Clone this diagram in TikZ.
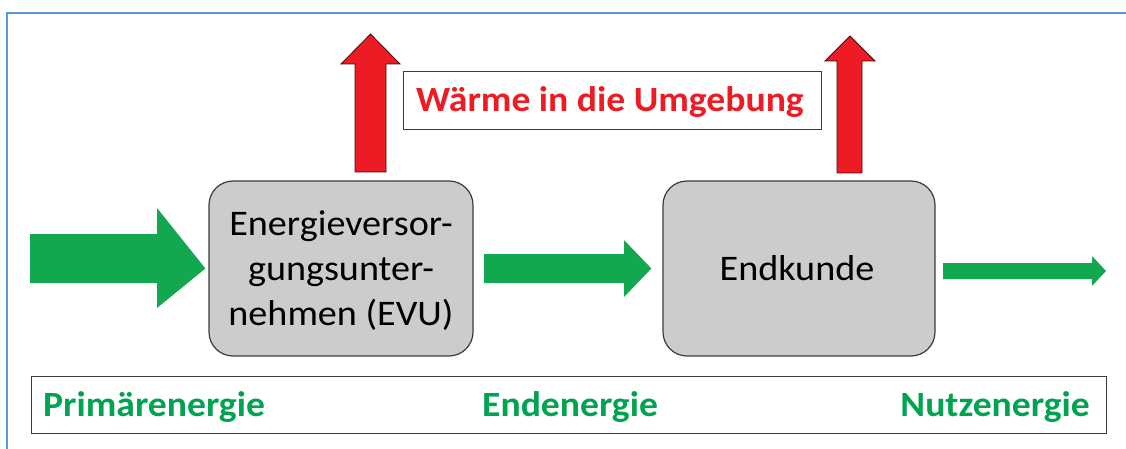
\documentclass[tikz,border=0pt]{standalone}
\usepackage{fontspec}
\setmainfont{Carlito}[FakeStretch=1.06]
\definecolor{frameblue}{RGB}{91,155,213}
\definecolor{heatred}{RGB}{237,28,36}
\definecolor{flowgreen}{RGB}{19,168,79}
\definecolor{textgreen}{RGB}{0,163,80}
\definecolor{boxgray}{RGB}{204,204,204}
\definecolor{edgegray}{RGB}{60,60,60}
\tikzset{
  procbox/.style={draw=edgegray, line width=1.2pt, fill=boxgray, rounded corners=24pt, inner sep=0pt},
  redarrow/.style={fill=heatred, draw=black!70!heatred, line width=0.8pt},
  greenarrow/.style={fill=flowgreen, draw=none},
  labelbox/.style={draw=edgegray, line width=1pt, fill=white, inner sep=0pt},
  bigtext/.style={font=\fontsize{36}{45}\selectfont, text=black},
  redlabel/.style={font=\fontsize{35.5}{42}\selectfont\bfseries, text=heatred},
  greenlabel/.style={font=\fontsize{35.5}{42}\selectfont\bfseries, text=textgreen, inner sep=0pt},
}
\begin{document}
\begin{tikzpicture}[x=1pt,y=-1pt]
\useasboundingbox (0,0) rectangle (1126,449);
% blue frame (left and top visible)
\draw[frameblue, line width=1.5pt] (7,449) -- (7,13) -- (1126,13);

% process boxes
\node[procbox, minimum width=264pt, minimum height=175pt] (evu) at (341,268.5) {};
\node[procbox, minimum width=272pt, minimum height=175pt] (kunde) at (799,268.5) {};
\node[bigtext, align=center] (evutext) at (341,271) {Energieversor-\\gungsunter-\\nehmen (EVU)};
\node[bigtext] (kundetext) at (797,268) {Endkunde};

% heat label
\node[labelbox, minimum width=418pt, minimum height=58pt] (heat) at (612,101) {};
\node[redlabel] (heattext) at (610,102) {Wärme in die Umgebung};

% bottom label box
\node[labelbox, minimum width=1075pt, minimum height=57pt] (levels) at (568.5,404.5) {};
\node[greenlabel, anchor=base west] (prim) at (43,416) {Primärenergie};
\node[greenlabel, anchor=base west] (ende) at (482,416) {Endenergie};
\node[greenlabel, anchor=base east] (nutz) at (1090,416) {Nutzenergie};

% red arrows (heat losses)
\draw[redarrow] (355,172) -- (355,64) -- (341,64) -- (370.5,34) -- (400,64) -- (386,64) -- (386,172) -- cycle;
\draw[redarrow] (837,173) -- (837,61) -- (825,61) -- (850,36) -- (875,61) -- (862,61) -- (862,173) -- cycle;

% green flow arrows
\fill[greenarrow] (30,234) -- (157,234) -- (157,208) -- ([xshift=-3pt]evu.west) -- (157,308) -- (157,283) -- (30,283) -- cycle;
\fill[greenarrow] (484,254) -- (624,254) -- (624,240) -- ([xshift=-11pt]kunde.west) -- (624,297) -- (624,283) -- (484,283) -- cycle;
\coordinate (out) at (1106,271);
\fill[greenarrow] (943,263) -- (1092,263) -- (1092,256) -- (out) -- (1092,286) -- (1092,279) -- (943,279) -- cycle;
\end{tikzpicture}
\end{document}
